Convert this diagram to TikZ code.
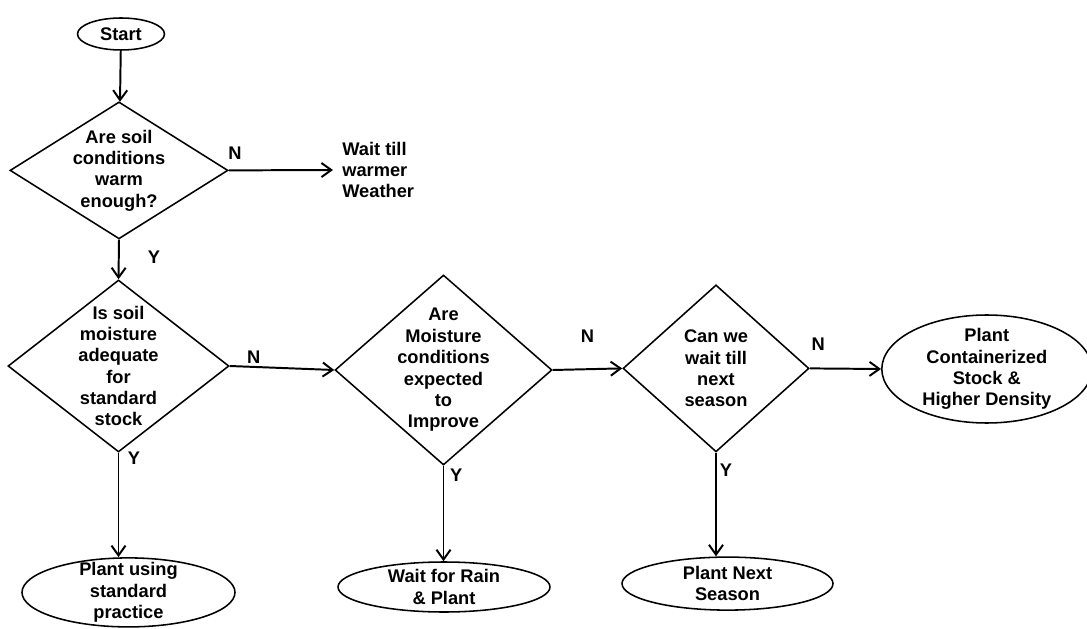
\documentclass[tikz,border=0pt]{standalone}
\usepackage{fontspec}
\setmainfont{Liberation Sans}
\usetikzlibrary{shapes.geometric,arrows.meta}

\tikzset{
  decision/.style={draw=black,line width=1.1pt,diamond,inner sep=-0.6cm,align=center},
  terminal/.style={draw=black,line width=1.1pt,ellipse,inner sep=-0.25cm,align=center},
  flow/.style={->,>={Straight Barb[length=7pt,width=10pt]},draw=black,line width=1.4pt},
  answer/.style={inner sep=0pt}
}

\begin{document}
\begin{tikzpicture}[font=\fontsize{13}{15.2}\selectfont\bfseries]
	\useasboundingbox (0,0) rectangle (27.175,15.7);

	\node[terminal,minimum width=2.175cm,minimum height=0.8cm] (start) at (3.025,14.85) {Start};

	\node[decision,minimum width=5.45cm,minimum height=3.425cm] (warm) at (2.975,11.44) {Are soil\\conditions\\warm\\enough?};
	\node[anchor=west,align=left,inner sep=0pt,inner xsep=0.225cm] (wait) at (8.325,11.45) {Wait till\\warmer\\Weather};

	\node[decision,minimum width=5.525cm,minimum height=4.3cm] (moist) at (2.9625,6.55) {Is soil\\moisture\\adequate\\for\\standard\\stock};
	\node[decision,minimum width=5.425cm,minimum height=4.75cm] (improve) at (11.0875,6.45) {Are\\Moisture\\conditions\\expected\\to\\Improve};
	\node[decision,minimum width=4.65cm,minimum height=4.175cm] (season) at (17.9,6.49) {Can we\\wait till\\next\\season};
	\node[terminal,minimum width=5.25cm,minimum height=2.7cm] (contain) at (24.67,6.475) {Plant\\Containerized\\Stock \&\\Higher Density};

	\node[terminal,minimum width=5.325cm,minimum height=1.725cm] (standard) at (3.2125,0.89) {Plant using\\standard\\practice};
	\node[terminal,minimum width=5.3cm,minimum height=1.25cm] (rain) at (11.1,1.025) {Wait for Rain\\\& Plant};
	\node[terminal,minimum width=5.275cm,minimum height=1.325cm] (next) at (18.1875,1.11) {Plant Next\\Season};

	\path[flow] (start) -- (warm);
	\path[flow] (warm.east) -- node[answer,pos=0.06,above=7pt] {N} (wait.west);
	\path[flow] (warm.south) -- node[answer,pos=0.45,right=20pt] {Y} (moist.north);

	\path[flow] (moist.east) -- node[answer,pos=0.23,above=2pt] {N} (improve.west);
	\path[flow] (improve.east) -- node[answer,pos=0.5,above=18pt] {N} (season.west);
	\path[flow] (season.east) -- node[answer,pos=0.12,above=12pt] {N} (contain.west);

	\path[flow] (moist.south) -- node[answer,pos=0.05,right=6pt] {Y} (moist.south |- standard.north);
	\path[flow] (improve.south) -- node[answer,pos=0.1,right=4pt] {Y} (improve.south |- rain.north);
	\path[flow] (season.south) -- node[answer,pos=0.17,right=2pt] {Y} (season.south |- next.north);

\end{tikzpicture}
\end{document}
